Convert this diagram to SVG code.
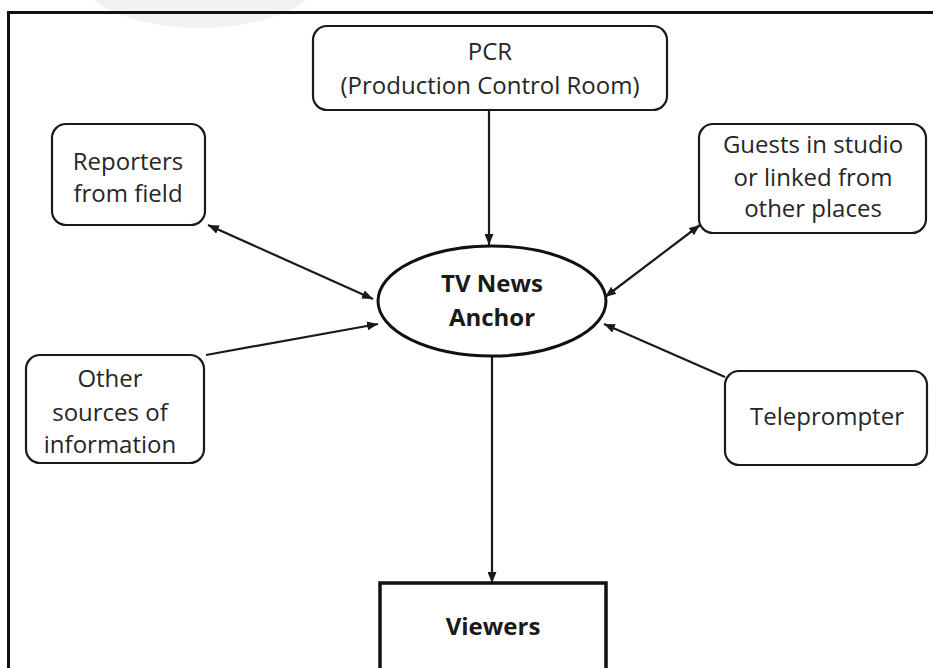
<svg xmlns="http://www.w3.org/2000/svg" width="933" height="668" viewBox="0 0 933 668">
<style>
.box{fill:#fff;stroke:#1a1a1a;stroke-width:2.2}
.t{font-family:"Open Sans","Liberation Sans",sans-serif;font-size:24px;fill:#262626;text-anchor:middle}
.b{font-family:"Open Sans","Liberation Sans",sans-serif;font-size:24px;font-weight:bold;fill:#1a1a1a;text-anchor:middle}
.c{stroke:#1a1a1a;stroke-width:2.2;fill:none}
</style>
<defs>
<marker id="ah" viewBox="0 0 11 9" refX="11" refY="4.5" markerWidth="11" markerHeight="9" markerUnits="userSpaceOnUse" orient="auto-start-reverse">
<path d="M0,0 L11,4.5 L0,9 z" fill="#1a1a1a"/>
</marker>
</defs>
<rect width="933" height="668" fill="#fff"/>
<ellipse cx="200" cy="-30" rx="125" ry="58" fill="#f2f2f2"/>
<path d="M8.5,668 V12.5 H933" fill="none" stroke="#111" stroke-width="3"/>
<g id="connectors">
<line class="c" x1="489" y1="110" x2="489" y2="245" marker-end="url(#ah)"/>
<line class="c" x1="492" y1="357" x2="492" y2="583" marker-end="url(#ah)"/>
<line class="c" x1="208" y1="225" x2="373" y2="299" marker-start="url(#ah)" marker-end="url(#ah)"/>
<line class="c" x1="206" y1="355" x2="378" y2="324" marker-end="url(#ah)"/>
<line class="c" x1="700" y1="225" x2="605" y2="297" marker-start="url(#ah)" marker-end="url(#ah)"/>
<line class="c" x1="725" y1="377" x2="604" y2="324" marker-end="url(#ah)"/>
</g>
<g id="pcr">
<rect class="box" x="313" y="26" width="354" height="84" rx="14"/>
<text class="t" x="490" y="60">PCR</text>
<text class="t" x="490" y="94">(Production Control Room)</text>
</g>
<g id="reporters">
<rect class="box" x="52" y="124" width="153" height="101" rx="14"/>
<text class="t" x="128" y="170">Reporters</text>
<text class="t" x="128" y="202">from field</text>
</g>
<g id="guests">
<rect class="box" x="699" y="124" width="227" height="109" rx="14"/>
<text class="t" x="813" y="153">Guests in studio</text>
<text class="t" x="813" y="186">or linked from</text>
<text class="t" x="813" y="217">other places</text>
</g>
<g id="anchor">
<ellipse cx="492" cy="301" rx="114" ry="55" fill="#fff" stroke="#111" stroke-width="3"/>
<text class="b" x="492" y="292">TV News</text>
<text class="b" x="492" y="326">Anchor</text>
</g>
<g id="other">
<rect class="box" x="26" y="355" width="178" height="108" rx="14"/>
<text class="t" x="110" y="387">Other</text>
<text class="t" x="110" y="421">sources of</text>
<text class="t" x="110" y="453">information</text>
</g>
<g id="teleprompter">
<rect class="box" x="725" y="371" width="202" height="94" rx="14"/>
<text class="t" x="827" y="425">Teleprompter</text>
</g>
<g id="viewers">
<rect x="380" y="583" width="226" height="100" fill="#fff" stroke="#111" stroke-width="3.5"/>
<text class="b" x="493" y="635">Viewers</text>
</g>
</svg>
